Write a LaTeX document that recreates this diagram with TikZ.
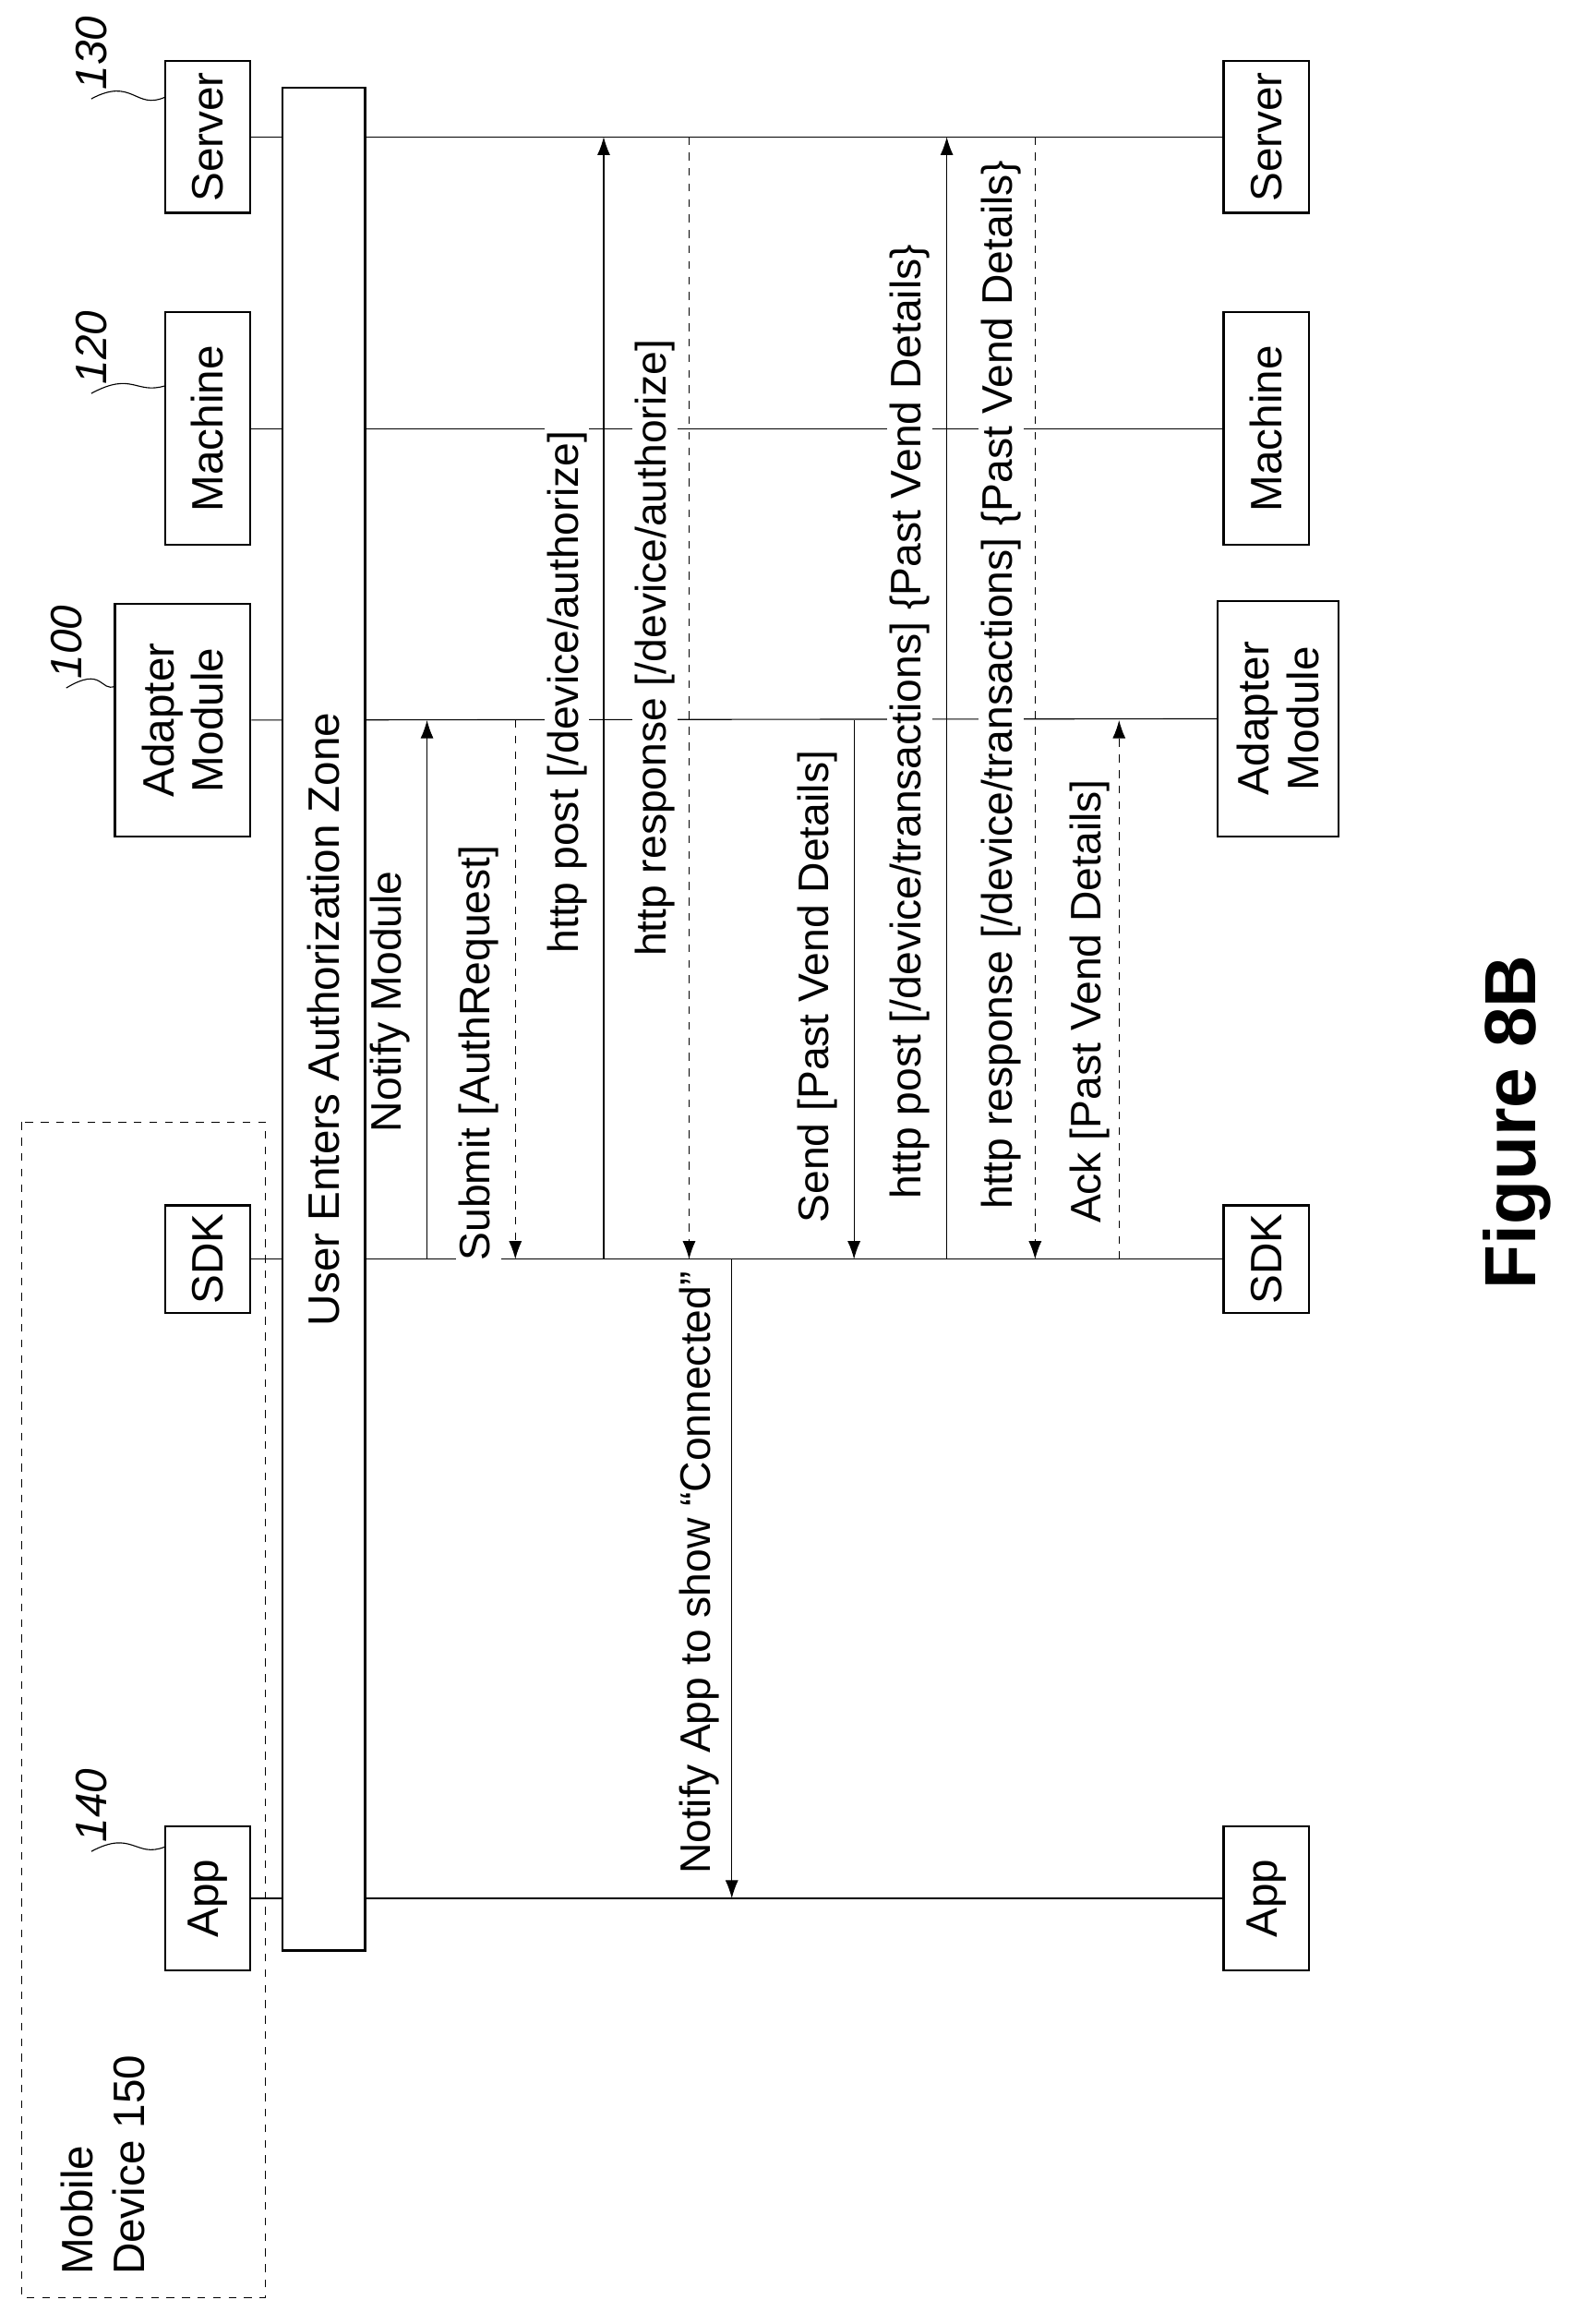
\documentclass[tikz,border=0pt]{standalone}
\usepackage{fontspec}
\setmainfont{Liberation Sans}
\usetikzlibrary{arrows.meta}
\begin{document}
\begin{tikzpicture}[x=0.02cm,y=-0.02cm]
  \tikzstyle{obj}=[draw,thick,rotate=90,minimum height=1.16cm,align=center,font=\fontsize{17}{19}\selectfont,fill=white]
  \tikzstyle{life}=[draw,thin]
  \tikzstyle{msg}=[draw,thin,-{Latex[length=7pt,width=5pt]}]
  \tikzstyle{reply}=[msg,dashed]
  \tikzstyle{lbl}=[rotate=90,fill=white,inner sep=1pt,font=\fontsize{16.5}{19}\selectfont]
  \tikzstyle{ref}=[rotate=90,font=\fontsize{17}{19}\selectfont\itshape]
  \useasboundingbox (0,0) rectangle (1076,1578);
  % mobile device
  \path[draw,dashed] (15,762) rectangle (180,1560);
  \node[ref,font=\fontsize{17}{20}\selectfont,align=left] (mob) at (70,1470) {Mobile\\Device 150};
  % objects, top row
  \node[obj,minimum width=2.06cm] (S1) at (141,93) {Server};
  \node[obj,minimum width=3.16cm] (M1) at (141,291) {Machine};
  \node[obj,minimum width=3.16cm,minimum height=1.84cm] (A1) at (124,489) {Adapter\\Module};
  \node[obj,minimum width=1.4cm] (K1) at (141,855) {SDK};
  \node[obj,minimum width=1.96cm] (P1) at (141,1289) {App};
  % objects, bottom row
  \node[obj,minimum width=2.06cm] (S2) at (860,93) {Server};
  \node[obj,minimum width=3.16cm] (M2) at (860,291) {Machine};
  \node[obj,minimum width=3.2cm,minimum height=1.64cm] (A2) at (868,488) {Adapter\\Module};
  \node[obj,minimum width=1.4cm] (K2) at (860,855) {SDK};
  \node[obj,minimum width=1.96cm] (P2) at (860,1289) {App};
  % reference numerals
  \node[ref] (n130) at (62,36) {130};
  \node[ref] (n120) at (62,236) {120};
  \node[ref] (n100) at (45,436) {100};
  \node[ref] (n140) at (62,1226) {140};
  \draw (n130.west) .. controls (90,52) and (92,75) .. (112,66);
  \draw (n120.west) .. controls (90,252) and (92,268) .. (112,262);
  \draw (n100.west) .. controls (70,452) and (68,470) .. (78,466);
  \draw (n140.west) .. controls (90,1242) and (92,1262) .. (112,1254);
  % lifelines
  \path[life] (S1) -- (S2);
  \path[life] (M1) -- (M2);
  \path[life] (A1) -- (A2);
  \path[life] (K1) -- (K2);
  \path[life] (P1) -- (P2);
  % zone bar
  \node[obj,minimum width=25.3cm,minimum height=1.12cm] (zone) at (220,692) {User Enters Authorization Zone};
  % message end points
  \foreach \n/\x in {a/290,b/350,c/410,d/468,e/497,f/580,g/643,h/703,i/760}{
    \coordinate (\n S) at (\x,93);
    \coordinate (\n A) at (\x,489);
    \coordinate (\n K) at (\x,855);
    \coordinate (\n P) at (\x,1289);
  }
  % labels
  \node[lbl] (la) at (265,680) {Notify Module};
  \node[lbl] (lb) at (325,715) {Submit [AuthRequest]};
  \node[lbl] (lc) at (385,470) {http post [/device/authorize]};
  \node[lbl] (ld) at (445,440) {http response [/device/authorize]};
  \node[lbl] (le) at (475,1068) {Notify App to show “Connected”};
  \node[lbl] (lf) at (555,670) {Send [Past Vend Details]};
  \node[lbl] (lg) at (618,490) {http post [/device/transactions] \{Past Vend Details\}};
  \node[lbl] (lh) at (680,465) {http response [/device/transactions] \{Past Vend Details\}};
  \node[lbl] (li) at (740,680) {Ack [Past Vend Details]};
  % messages
  \path[msg] (aK) -- (aA);
  \path[reply] (bA) -- (bK);
  \path[msg] (cK) -- (cS);
  \path[reply] (dS) -- (dK);
  \path[msg] (eK) -- (eP);
  \path[msg] (fA) -- (fK);
  \path[msg] (gK) -- (gS);
  \path[reply] (hS) -- (hK);
  \path[reply] (iK) -- (iA);
  \node[rotate=90,font=\fontsize{28}{32}\selectfont\bfseries] (fig) at (1030,762) {Figure 8B};
\end{tikzpicture}
\end{document}
